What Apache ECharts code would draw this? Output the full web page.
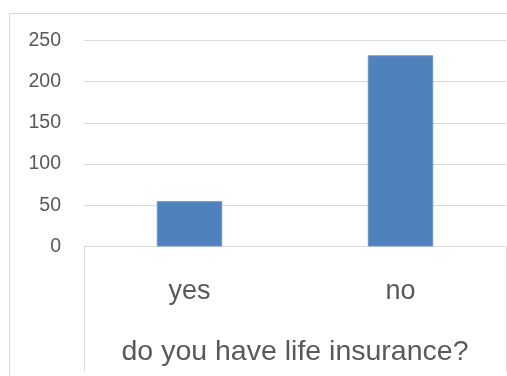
<!DOCTYPE html>
<html><head><meta charset="utf-8">
<script src="https://cdn.jsdelivr.net/npm/echarts@6/dist/echarts.min.js"></script>
<style>html,body{margin:0;padding:0;background:#fff}#c{width:507px;height:376px}</style>
</head><body><div id="c"></div>
<script>
const categories = ["yes", "no"];
const values = [55, 232];
const axisTitle = ["do you have life insurance?"];
const yTicks = { min: 0, max: 250, interval: 50 };

const FONT = "Liberation Sans";
const chart = echarts.init(document.getElementById('c'), null, { renderer: 'canvas' });
chart.setOption({
  animation: false,
  backgroundColor: '#fff',
  graphic: [{
    type: 'rect', left: 7, top: 11, z: -1,
    shape: { width: 520, height: 420 },
    style: { fill: 'none', stroke: '#d9d9d9', lineWidth: 1 }
  }],
  grid: { left: 84, right: 1, top: 40.5, bottom: 129.5, containLabel: false },
  xAxis: [{
    type: 'category', data: categories, position: 'bottom',
    axisLine: { show: true, lineStyle: { color: '#d9d9d9', width: 1 } },
    axisTick: { show: false },
    axisLabel: { color: '#595959', fontFamily: FONT, fontSize: 27, margin: 32 }
  }, {
    type: 'category', data: axisTitle, position: 'bottom', gridIndex: 0,
    axisLine: { show: false },
    axisTick: { show: true, length: 125, lineStyle: { color: '#d9d9d9', width: 1 } },
    axisLabel: { color: '#595959', fontFamily: FONT, fontSize: 28.5, margin: 91 }
  }],
  yAxis: {
    type: 'value', min: yTicks.min, max: yTicks.max, interval: yTicks.interval,
    axisLine: { show: false }, axisTick: { show: false },
    splitLine: { lineStyle: { color: '#d9d9d9', width: 1 } },
    axisLabel: { color: '#595959', fontFamily: FONT, fontSize: 19.5, margin: 23 }
  },
  series: [{
    type: 'bar', data: values, xAxisIndex: 0, barWidth: '31%',
    itemStyle: { color: '#4f81bd', borderColor: '#6a93c8', borderWidth: 1 }
  }]
});
</script></body></html>
